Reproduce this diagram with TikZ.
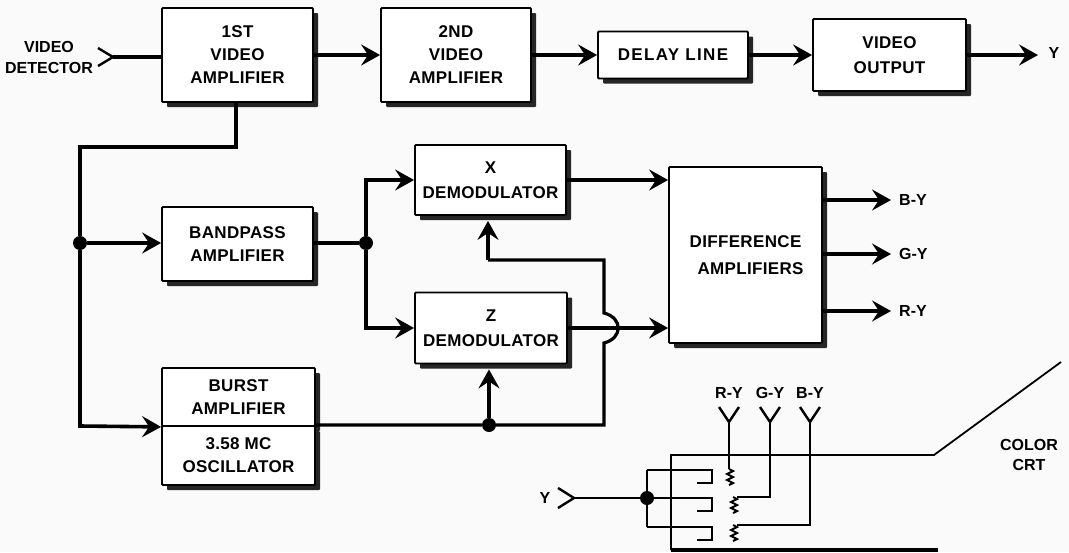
\documentclass[tikz,border=0pt]{standalone}
\usepackage{fontspec}
\setmainfont{Liberation Sans}
\usetikzlibrary{arrows.meta,shadows}
\begin{document}
\begin{tikzpicture}[x=1pt,y=-1pt]
\useasboundingbox (0,0) rectangle (1069,552);
\fill[white!98!black] (0,0) rectangle (1069,552);

\tikzstyle{blockbox}=[draw,fill=white,line width=1.8pt,rounded corners=1pt,align=center,inner sep=0pt,anchor=center,
  font=\fontsize{17}{23}\selectfont\bfseries\addfontfeature{LetterSpace=2},
  drop shadow={shadow xshift=5pt,shadow yshift=-5pt,opacity=1,fill=black!85}];
\tikzstyle{smalltext}=[align=center,inner sep=2pt,font=\fontsize{16}{20.5}\selectfont\bfseries];
\tikzstyle{jdot}=[circle,fill=black,minimum size=14pt,inner sep=0pt];
\tikzstyle{sig}=[line width=4pt,-{Stealth[length=19pt,width=21pt,inset=7pt]}];
\tikzstyle{feed}=[line width=3.2pt,-{Stealth[length=19pt,width=21pt,inset=7pt]}];
\tikzstyle{wire}=[line width=3.2pt];
\tikzstyle{gun}=[line width=2.4pt];

% Draw the blocks of the receiver
\node[blockbox,minimum width=151pt,minimum height=94pt] (vid1) at (237.5,55) {1ST\\VIDEO\\AMPLIFIER};
\node[blockbox,minimum width=150pt,minimum height=94pt] (vid2) at (456,55) {2ND\\VIDEO\\AMPLIFIER};
\node[blockbox,minimum width=150pt,minimum height=47pt,font=\fontsize{17}{23}\selectfont\bfseries\addfontfeature{LetterSpace=8}] (delay) at (673,55) {DELAY LINE};
\node[blockbox,minimum width=153pt,minimum height=72pt] (vout) at (889.5,55) {VIDEO\\[2pt]OUTPUT};
\node[blockbox,minimum width=151pt,minimum height=74pt] (band) at (237.5,244) {BANDPASS\\AMPLIFIER};
\node[blockbox,minimum width=151pt,minimum height=70pt] (xdem) at (490.5,180) {X\\[2pt]DEMODULATOR};
\node[blockbox,minimum width=152pt,minimum height=71pt] (zdem) at (491,328) {Z\\[2pt]DEMODULATOR};
\node[blockbox,minimum width=153pt,minimum height=176pt] (diff) at (745.5,255) {DIFFERENCE\\[4pt]\hspace*{10pt}AMPLIFIERS};
\node[blockbox,minimum width=153pt,minimum height=58pt] (burst) at (238.5,397) {BURST\\AMPLIFIER};
\node[blockbox,minimum width=153pt,minimum height=59pt] (osc) at (238.5,455.5) {3.58 MC\\OSCILLATOR};

% Input and output labels
\node[smalltext] (det) at (49,57.5) {VIDEO\\DETECTOR};
\node[smalltext] (yout) at (1054,53) {Y};
\node[smalltext,anchor=west] (by) at (897,200) {B-Y};
\node[smalltext,anchor=west] (gy) at (897,254) {G-Y};
\node[smalltext,anchor=west] (ry) at (897,311) {R-Y};

% Chain along the top
\coordinate (c1) at (113,57);
\draw[gun] (98,48) -- (c1) -- (98,66);
\draw[line width=4pt] (c1) -- (vid1.west |- c1);
\draw[sig] (vid1.east) -- (vid2.west);
\draw[sig] (vid2.east) -- (delay.west);
\draw[feed] (delay.east) -- (vout.west);
\draw[sig] (vout.east) -- (vout.east -| 1038,0);

% Feed from the first amplifier
\node[jdot] (j1) at (80,243) {};
\coordinate (c2) at (236,147);
\coordinate (c3) at (80,147);
\coordinate (c4) at (80,426);
\draw[wire,line width=3.6pt] (236,102) -- (c2) -- (c3) -- (j1);
\draw[sig,line width=3.6pt] (j1) -- (j1 -| band.west);
\draw[sig,line width=3.6pt] (j1) -- (c4) -- (burst.south west);

% Bandpass to the demodulators
\node[jdot] (j2) at (366,243) {};
\draw[sig,-] (j2 -| band.east) -- (j2);
\draw[feed] (j2) |- (xdem.west);
\draw[feed] (j2) |- (zdem.west);
\draw[feed] (xdem.east) -- (xdem.east -| diff.west);
\draw[feed] (zdem.east) -- (zdem.east -| diff.west);

% Outputs of the difference amplifiers
\foreach \x in {by,gy,ry}
  \draw[sig,shorten >=6pt] (\x.west -| diff.east) -- (\x.west);

% Burst line with the hump over the Z output
\node[jdot] (j3) at (489,425) {};
\coordinate (c5) at (604,425);
\coordinate (c6) at (604,343);
\coordinate (c7) at (604,313);
\coordinate (c8) at (604,260);
\coordinate (c9) at (488,260);
\draw[wire] (osc.north east |- j3) -- (j3) -- (c5) -- (c6) .. controls (623,338) and (623,318) .. (c7) -- (c8) -- (c9);
\draw[feed] (c9) -- ([yshift=-5pt]c9 |- xdem.south);
\draw[sig] (j3) -- ([yshift=-5pt]j3 |- zdem.south);

% Color CRT outline
\node[smalltext] (crt) at (1029,455) {COLOR\\CRT};
\coordinate (t1) at (671,455);
\coordinate (t2) at (934,455);
\coordinate (t3) at (1061,362);
\coordinate (t4) at (671,550);
\coordinate (t5) at (938,550);
\draw[line width=1.8pt] (t3) -- (t2) -- (t1) -- (t4);
\draw[wire] (t4) -- (t5);

% Y input and the three cathodes
\node[smalltext] (yin) at (545,498) {Y};
\node[jdot] (j4) at (647,498) {};
\coordinate (y1) at (574,498);
\draw[gun] (558,488) -- (y1) -- (558,508);
\draw[gun] (y1) -- (j4);
\foreach \y [count=\idx] in {470,498,527} {
  \coordinate (k\idx) at (647,\y);
  \draw[line width=2.6pt] (k\idx) -- ++(65,0) -- ++(0,13) -- ++(-15,0);
}
\draw[line width=2.6pt] (k1) -- (k3);

% Grid leads with their small heater marks
\foreach \x/\t [count=\idx] in {729/R-Y,770/G-Y,810/B-Y} {
  \node[smalltext] (lab\idx) at (\x,393) {\t};
  \coordinate (f\idx) at (\x,422);
  \draw[gun] (\x-10,407) -- (f\idx) -- (\x+10,407);
}
\coordinate (g1) at (729,469);
\coordinate (g2) at (770,497);
\coordinate (g3) at (810,525);
\draw[gun] (f1) -- (g1);
\draw[gun,line width=2.8pt] (f2) -- (g2) -- (737,497);
\draw[gun] (f3) -- (g3) -- (737,525);
\foreach \x/\y in {729/469,733/497,733/525}
  \draw[line width=2pt] (\x,\y) -- ++(4,2) -- ++(-6,3) -- ++(6,3) -- ++(-6,3) -- ++(6,3) -- ++(-4,2);

\end{tikzpicture}
\end{document}
